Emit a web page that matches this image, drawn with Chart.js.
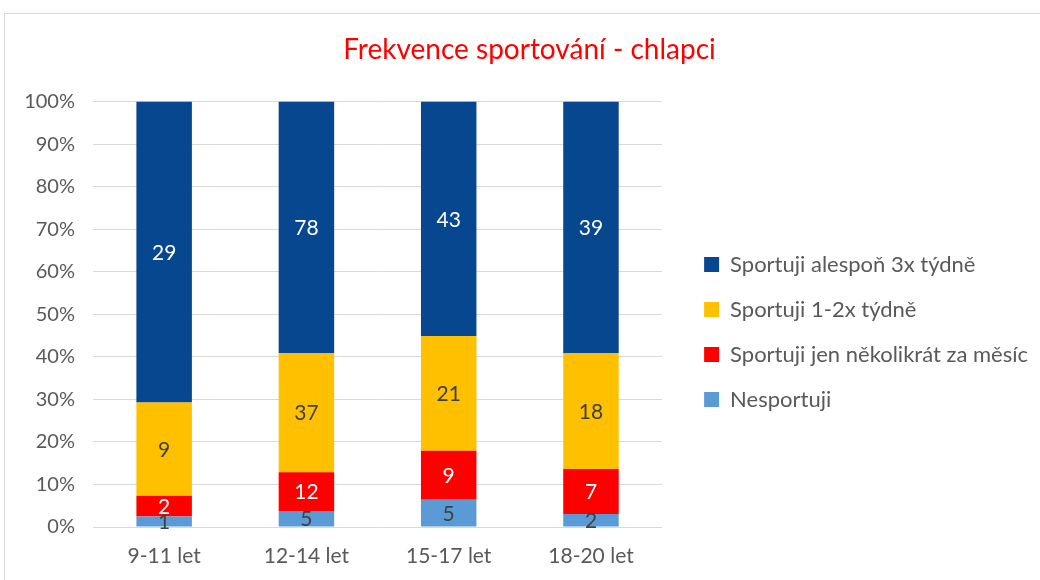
<!DOCTYPE html>
<html>
<head>
<meta charset="utf-8">
<script src="https://cdn.jsdelivr.net/npm/chart.js@4.4.1/dist/chart.umd.min.js"></script>
<style>
  html, body { margin: 0; padding: 0; background: #fff; overflow: hidden; }
  #frame { position: absolute; left: 4px; top: 13px; width: 1100px; height: 620px; border: 1px solid #d9d9d9; }
  #wrap { position: absolute; left: 0; top: 0; width: 1040px; height: 580px; }
</style>
</head>
<body>
<div id="frame"></div>
<div id="wrap"><canvas id="chart" width="1040" height="580"></canvas></div>
<script>
// data (counts per age group)
var groups = ['9-11 let', '12-14 let', '15-17 let', '18-20 let'];
var nesportuji = [1, 5, 5, 2];
var nekolikratMesic = [2, 12, 9, 7];
var tydne12 = [9, 37, 21, 18];
var alespon3 = [29, 78, 43, 39];

var totals = groups.map(function (g, i) {
  return nesportuji[i] + nekolikratMesic[i] + tydne12[i] + alespon3[i];
});
function pct(arr) {
  return arr.map(function (v, i) { return v / totals[i] * 100; });
}

var font = 'Lato, "Liberation Sans", sans-serif';
var grey = '#595959';

// value labels in the middle of each segment
var segLabels = {
  id: 'segLabels',
  afterDatasetsDraw: function (chart) {
    var ctx = chart.ctx;
    ctx.save();
    ctx.font = '21px ' + font;
    ctx.textAlign = 'center';
    ctx.textBaseline = 'middle';
    chart.data.datasets.forEach(function (ds, di) {
      var meta = chart.getDatasetMeta(di);
      meta.data.forEach(function (bar, i) {
        ctx.fillStyle = ds.labelColor;
        ctx.fillText(String(ds.counts[i]), bar.x, (bar.y + bar.base) / 2 + 1);
      });
    });
    ctx.restore();
  }
};

// nudge title and legend to where the original has them
var nudge = {
  id: 'nudge',
  afterLayout: function (chart) {
    var t = chart.titleBlock;
    t.left += 20; t.right += 20;
    var lg = chart.legend;
    lg.left += 19; lg.right += 19;
    lg.top += 42; lg.bottom += 42;
  }
};

var ctx = document.getElementById('chart').getContext('2d');
var myChart = new Chart(ctx, {
  type: 'bar',
  data: {
    labels: groups,
    datasets: [
      { label: 'Nesportuji', data: pct(nesportuji), counts: nesportuji,
        backgroundColor: '#5b9bd5', labelColor: '#404040' },
      { label: 'Sportuji jen několikrát za měsíc', data: pct(nekolikratMesic), counts: nekolikratMesic,
        backgroundColor: '#ff0000', labelColor: '#ffffff' },
      { label: 'Sportuji 1-2x týdně', data: pct(tydne12), counts: tydne12,
        backgroundColor: '#ffc000', labelColor: '#404040' },
      { label: 'Sportuji alespoň 3x týdně', data: pct(alespon3), counts: alespon3,
        backgroundColor: '#07478f', labelColor: '#ffffff' }
    ]
  },
  options: {
    responsive: false,
    animation: false,
    datasets: {
      bar: { categoryPercentage: 1, barPercentage: 0.39 }
    },
    layout: { padding: { left: 0, right: 21, top: 0, bottom: 0 } },
    plugins: {
      title: {
        display: true,
        text: 'Frekvence sportování - chlapci',
        color: '#ff0000',
        font: { family: font, size: 28, weight: 'normal' },
        padding: { top: 33, bottom: 35 }
      },
      legend: {
        position: 'right',
        reverse: true,
        maxWidth: 420,
        labels: {
          color: grey,
          font: { family: font, size: 22 },
          boxWidth: 15,
          boxHeight: 15,
          padding: 23
        }
      },
      tooltip: { enabled: false }
    },
    scales: {
      x: {
        stacked: true,
        afterFit: function (scale) { scale.height = 53; },
        grid: { display: false, drawTicks: false },
        border: { display: false },
        ticks: { color: grey, font: { family: font, size: 21 }, padding: 17 }
      },
      y: {
        stacked: true,
        min: 0,
        max: 100,
        afterFit: function (scale) { scale.width = 93; },
        grid: { color: '#d9d9d9', drawTicks: false },
        border: { display: false },
        ticks: {
          stepSize: 10,
          color: grey,
          padding: 18,
          font: { family: font, size: 20 },
          callback: function (v) { return v + '%'; }
        }
      }
    }
  },
  plugins: [segLabels, nudge]
});
</script>
</body>
</html>
